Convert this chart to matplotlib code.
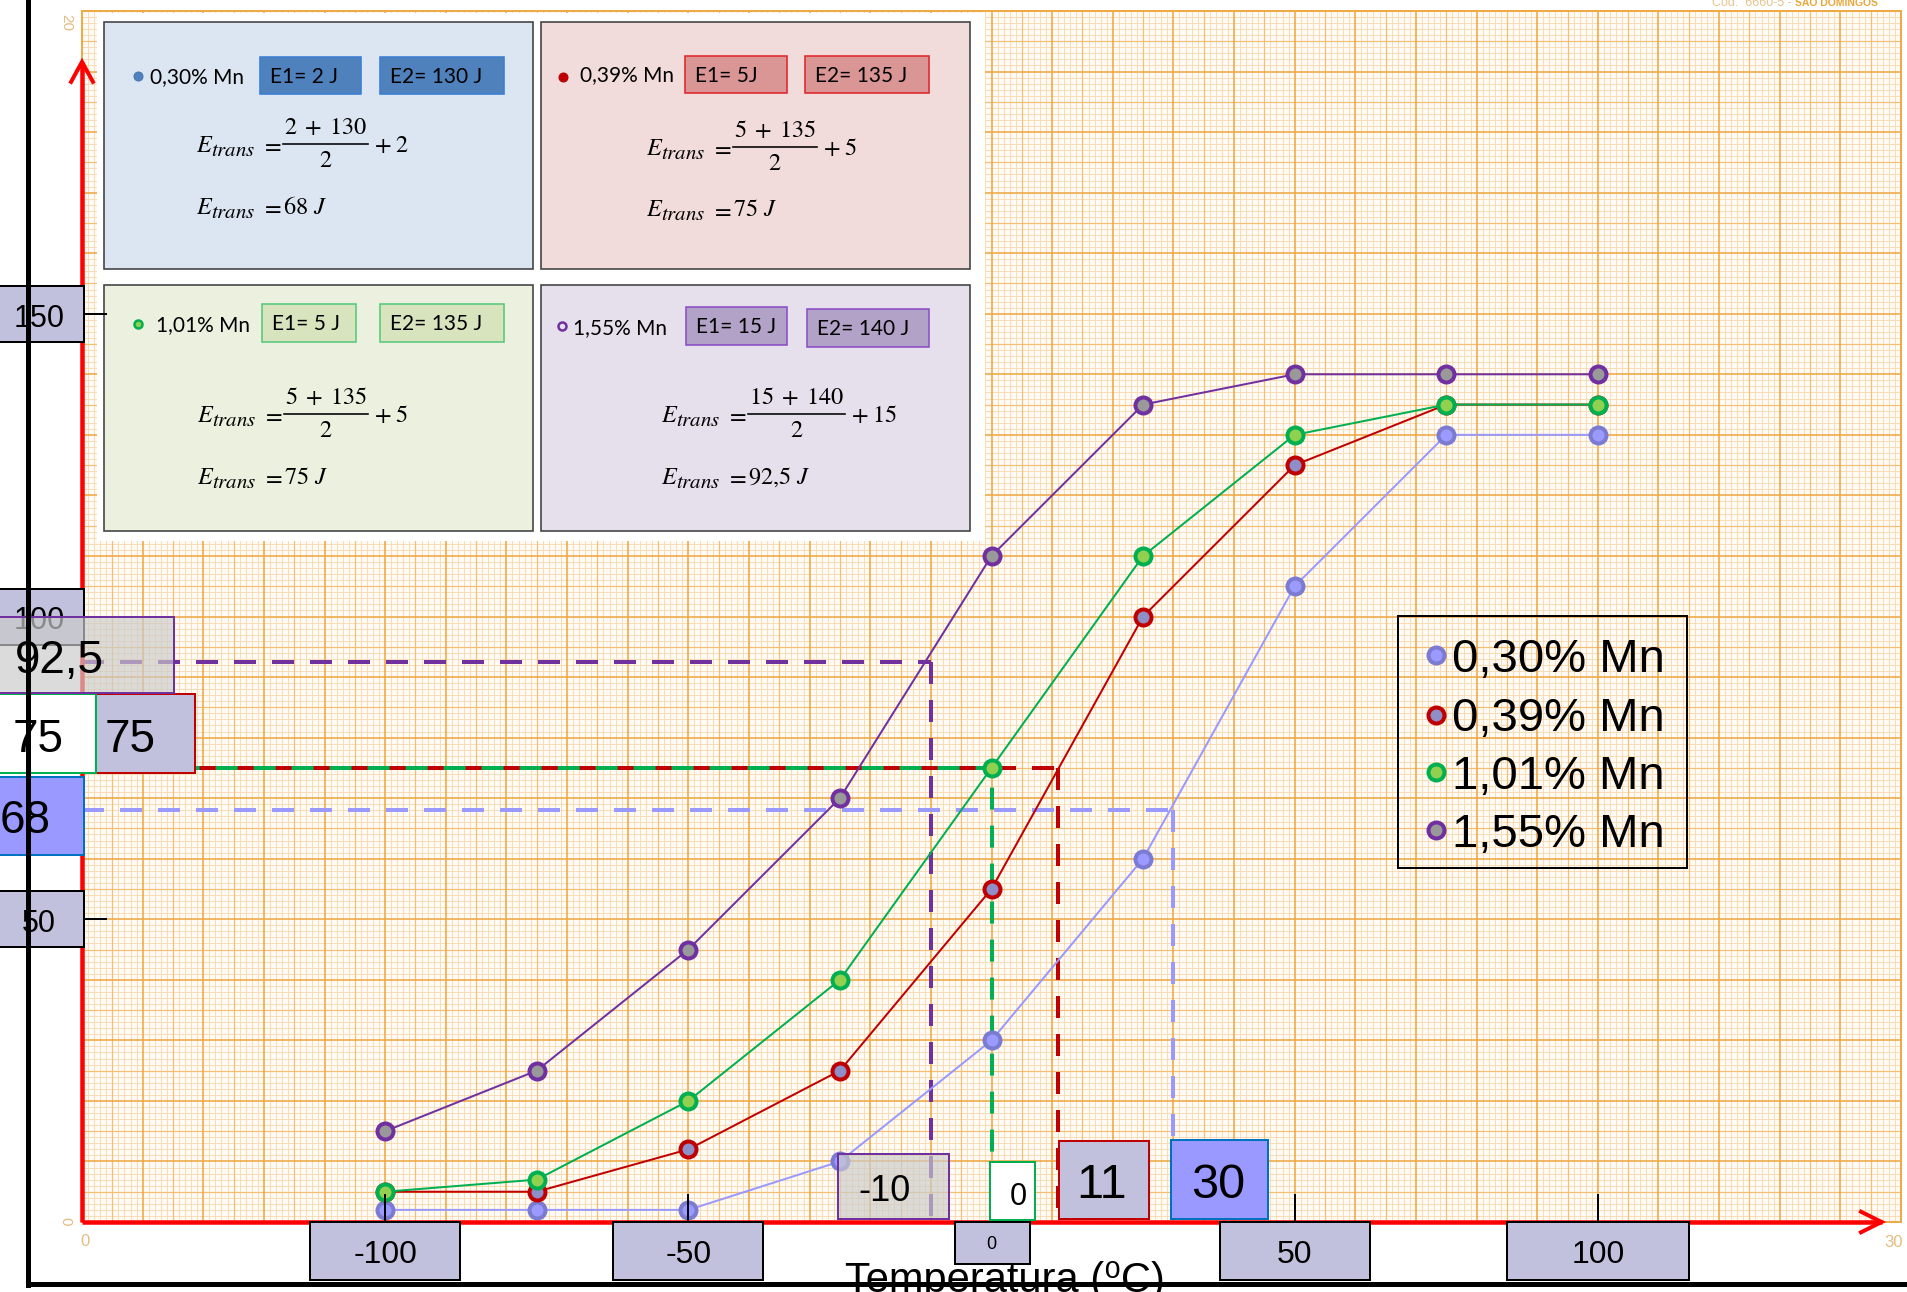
import numpy as np
import matplotlib
matplotlib.use("Agg")
import matplotlib.pyplot as plt
import matplotlib.transforms as mtransforms
from matplotlib.patches import Rectangle
from matplotlib.lines import Line2D

# ---------------- data ----------------
temperatures = [-100, -75, -50, -25, 0, 25, 50, 75, 100]
series_labels = ["0,30% Mn", "0,39% Mn", "1,01% Mn", "1,55% Mn"]
energy_030 = [2, 2, 2, 10, 30, 60, 105, 130, 130]
energy_039 = [5, 5, 12, 25, 55, 100, 125, 135, 135]
energy_101 = [5, 7, 20, 40, 75, 110, 130, 135, 135]
energy_155 = [15, 25, 45, 70, 110, 135, 140, 140, 140]
e1_values = [2, 5, 5, 15]
e2_values = [130, 135, 135, 140]
e_trans = [68, 75, 75, 92.5]
t_trans = [30, 11, 0, -10]
x_ticks = [-100, -50, 0, 50, 100]
y_ticks = [50, 100, 150]
x_label = "Temperatura (\u2070C)"

# ---------------- figure / helpers ----------------
W, H, DPI = 1907, 1292, 100
PT = 72 / DPI  # points per pixel

plt.rcParams["font.family"] = ["Liberation Sans", "DejaVu Sans"]
plt.rcParams["mathtext.fontset"] = "stix"

fig = plt.figure(figsize=(W / DPI, H / DPI), dpi=DPI, facecolor="white")
ax = fig.add_axes([82 / W, 1 - 1222 / H, (1901 - 82) / W, (1222 - 11) / H])
ax.set_xlim(-150, 150)
ax.set_ylim(0, 200)
ax.set_facecolor("#FFFAF3")
ax.set_xticks([])
ax.set_yticks([])
for sp in ax.spines.values():
    sp.set_color("#EFAA48")
    sp.set_linewidth(2 * PT)

# pixel coordinates with the origin in the top-left corner
PX = mtransforms.Affine2D().scale(1 / W, -1 / H).translate(0, 1) + fig.transFigure
renderer = fig.canvas.get_renderer()


def to_px(t, e):
    x, y = ax.transData.transform((t, e))
    return x, H - y


def box(x0, y0, x1, y1, z=5, **kw):
    r = Rectangle((x0, y0), x1 - x0, y1 - y0, transform=PX, zorder=z, **kw)
    fig.add_artist(r)
    return r


def label(x, y, s, size, z=6, va="center", **kw):
    return fig.text(x, y, s, transform=PX, fontsize=size, zorder=z, va=va, **kw)


def cap_label(x, ycap, s, size, z=6, **kw):
    # place text so that the middle of its capitals sits on ycap
    return label(x, ycap + 0.358 * size / PT, s, size, z=z, va="baseline", **kw)


def hline_px(x0, x1, y, color="black", lw=2, z=6):
    fig.add_artist(Line2D([x0, x1], [y, y], transform=PX, color=color,
                          lw=lw * PT, zorder=z))


def dot(x, y, size_px, face, edge, ew_px, z=7):
    fig.add_artist(Line2D([x], [y], transform=PX, ls="none", marker="o",
                          ms=size_px * PT, mfc=face, mec=edge, mew=ew_px * PT,
                          zorder=z))


def text_width(t):
    return t.get_window_extent(renderer).width


def fmt(v):
    return f"{v:g}".replace(".", ",")


def fmt_math(v):
    return fmt(v).replace(",", "{,}")


# ---------------- millimetre paper ----------------
mm_x = np.arange(-150, 151)
mm_y = np.arange(0, 201)
paper_styles = [
    (lambda v: v % 5 != 0, "#F6D8AA", 0.8),
    (lambda v: (v % 5 == 0) & (v % 10 != 0), "#F2BF74", 1.2),
    (lambda v: v % 10 == 0, "#EEA846", 1.6),
]
for sel, col, lw in paper_styles:
    ax.vlines(mm_x[sel(mm_x)], 0, 200, colors=col, lw=lw * PT, zorder=0.3)
    ax.hlines(mm_y[sel(mm_y)], -150, 150, colors=col, lw=lw * PT, zorder=0.3)

# ---------------- red axes with arrows ----------------
red = "#FF0000"
ax.plot([-150, 146.8], [0, 0], color=red, lw=4.5 * PT, clip_on=False, zorder=4,
        solid_capstyle="butt")
ax.plot([143.4, 146.8, 143.4], [1.7, 0, -1.7], color=red, lw=4 * PT,
        clip_on=False, zorder=4, solid_joinstyle="miter")
ax.plot([-150, -150], [0, 191.6], color=red, lw=4.5 * PT, clip_on=False, zorder=4,
        solid_capstyle="butt")
ax.plot([-151.8, -150, -148.2], [188.3, 191.6, 188.3], color=red, lw=4 * PT,
        clip_on=False, zorder=4, solid_joinstyle="miter")

# ---------------- transition guides ----------------
guide_colors = ["#9999FF", "#C00000", "#00B050", "#7030A0"]
guide_offsets = [0, 0, 4.6, 0]
for et, tt, col, off in zip(e_trans, t_trans, guide_colors, guide_offsets):
    ls = (off, (5.5, 4.0))
    ax.plot([-150, tt], [et, et], color=col, lw=4 * PT, ls=ls, zorder=2.5,
            clip_on=False)
    ax.plot([tt, tt], [et, 0], color=col, lw=4 * PT, ls=ls, zorder=2.5)

# ---------------- curves ----------------
series = [energy_030, energy_039, energy_101, energy_155]
line_colors = ["#9999FF", "#C00000", "#00B050", "#7030A0"]
edge_colors = ["#7B7BD2", "#C00000", "#00B050", "#7030A0"]
face_colors = ["#9B9BFF", "#8E8EC8", "#92D050", "#999999"]
for vals, lc, ec, fc in zip(series, line_colors, edge_colors, face_colors):
    ax.plot(temperatures, vals, color=lc, lw=2 * PT, marker="o", ms=16 * PT,
            mfc=fc, mec=ec, mew=4 * PT, zorder=3)

# ---------------- tick label boxes ----------------
tick_face = "#C1C1DD"
tick_box_half = {-100: 75, -50: 75, 50: 75, 100: 91}
for t in x_ticks:
    xc, _ = to_px(t, 0)
    if t == 0:
        box(xc - 37, 1222, xc + 38, 1264, z=10, facecolor=tick_face,
            edgecolor="black", lw=2 * PT)
        cap_label(xc, 1243, fmt(t), 13, z=11, ha="center")
    else:
        hw = tick_box_half[t]
        fig.add_artist(Line2D([xc, xc], [1195, 1222], transform=PX, color="black",
                              lw=2 * PT, zorder=9))
        box(xc - hw, 1222, xc + hw, 1280, z=10, facecolor=tick_face,
            edgecolor="black", lw=2 * PT)
        cap_label(xc, 1251.5, fmt(t), 23, z=11, ha="center")

for e in y_ticks:
    _, yc = to_px(-150, e)
    fig.add_artist(Line2D([84, 106], [yc, yc], transform=PX, color="black",
                          lw=2 * PT, zorder=9))
    box(-10, yc - 28, 84, yc + 28, z=10, facecolor=tick_face, edgecolor="black",
        lw=2 * PT)
    cap_label(39, yc + 2, fmt(e), 22, z=11, ha="center")

# ---------------- transition value boxes ----------------
box_face = ["#9999FF", tick_face, "white", "#CBCBCB"]
box_alpha = [1, 1, 1, 0.68]
box_edge = ["#0070C0", "#C00000", "#00B050", "#7030A0"]
# energy boxes (left side)
e_rects = [(-5, 777, 84, 855), (96, 694, 195, 773), (-5, 694, 96, 773),
           (-5, 617, 174, 693)]
e_text_xy = [(25, 817), (130, 736), (38, 736), (59, 657)]
for i, et in enumerate(e_trans):
    r = box(*e_rects[i], z=12, facecolor=box_face[i], edgecolor=box_edge[i],
            lw=2 * PT)
    r.set_facecolor(matplotlib.colors.to_rgba(box_face[i], box_alpha[i]))
    cap_label(*e_text_xy[i], fmt(et), 33, z=13, ha="center")
# temperature boxes (bottom)
t_rects = [(1171, 1140, 1268, 1219), (1059, 1141, 1149, 1219),
           (990, 1162, 1035, 1220), (838, 1154, 949, 1219)]
t_text_xy = [(1218, 1181), (1102, 1181), (1018, 1194), (885, 1188)]
t_sizes = [35, 35, 22, 26]
for i, tt in enumerate(t_trans):
    r = box(*t_rects[i], z=12, facecolor=box_face[i], edgecolor=box_edge[i],
            lw=2 * PT)
    r.set_facecolor(matplotlib.colors.to_rgba(box_face[i], box_alpha[i]))
    cap_label(*t_text_xy[i], fmt(tt), t_sizes[i], z=13, ha="center")

# ---------------- calculation panels ----------------
box(97, 13, 985, 541, z=2, facecolor="white", edgecolor="none")
panel_rects = [(104, 22, 533, 269), (541, 22, 970, 269),
               (104, 285, 533, 531), (541, 285, 970, 531)]
panel_face = ["#DCE6F2", "#F2DCDB", "#EBF1DE", "#E5E0EC"]
bullet_xy = [(137.5, 76), (563, 77), (138, 323.5), (562, 326)]
bullet_style = [("#4F81BD", "#4575B0", 9, 1), ("#C00000", "#B00000", 9, 1),
                ("#92D050", "#00B050", 8, 2.5), ("#E5E0EC", "#7030A0", 8, 2.5)]
name_x = [150, 580, 156, 573]
name_y = [76, 74, 323.5, 327]
e1_rects = [(260, 57, 361, 94), (685, 56, 787, 93), (262, 304, 356, 342),
            (686, 307, 787, 345)]
e2_rects = [(380, 57, 504, 94), (805, 56, 929, 93), (380, 304, 504, 342),
            (807, 309, 929, 347)]
e1_units = [" J", "J", " J", " J"]
ebox_face = ["#4F81BD", "#D99694", "#D7E4BD", "#B3A2C7"]
ebox_edge = ["#3A7ED4", "#E0262A", "#58C97B", "#8C4DC6"]
# left edge of "E_trans" and height of the fraction bar in each panel
formula_x = [196, 646, 197, 661]
formula_bar_y = [144, 146.5, 414, 414]
sans = ["Lato", "DejaVu Sans"]
FS = 17.5
FS_SUB = 15.0


def e_trans_symbol(x, base):
    """Italic E with a large 'trans' subscript, as in the equation editor."""
    e = label(x, base, r"$E$", FS, z=5, va="baseline")
    label(x + text_width(e) - 2, base + 4, r"$trans$", FS_SUB, z=5, va="baseline")


for i in range(4):
    box(*panel_rects[i], z=3, facecolor=panel_face[i], edgecolor="#404040",
        lw=1.6 * PT)
    f, ec, s, ew = bullet_style[i]
    dot(*bullet_xy[i], s, f, ec, ew, z=5)
    cap_label(name_x[i], name_y[i], series_labels[i], 15, z=5, family=sans)
    for rect, txt in ((e1_rects[i], f"E1= {e1_values[i]}{e1_units[i]}"),
                      (e2_rects[i], f"E2= {e2_values[i]} J")):
        box(*rect, z=4, facecolor=ebox_face[i], edgecolor=ebox_edge[i], lw=1.6 * PT)
        cap_label(rect[0] + 10, (rect[1] + rect[3]) / 2, txt, 15, z=5, family=sans)

    # E_trans = (E1 + E2) / 2 + E1, typeset piece by piece
    e1, e2 = e1_values[i], e2_values[i]
    x0, by = formula_x[i], formula_bar_y[i]
    base = by + 8.3
    e_trans_symbol(x0, base)
    label(x0 + 65, base, r"$=$", FS, z=5, va="baseline")
    num = label(0, by - 10, rf"${e1}\;+\;{e2}$", FS, z=5, va="baseline",
                ha="center")
    bx0 = x0 + 87
    bx1 = bx0 + text_width(num) + 2
    num.set_position(((bx0 + bx1) / 2, by - 10))
    hline_px(bx0, bx1, by, lw=1.6, z=5)
    label((bx0 + bx1) / 2, by + 23, r"$2$", FS, z=5, va="baseline", ha="center")
    label(bx1 + 6, base, r"$+$", FS, z=5, va="baseline")
    label(bx1 + 27, base, rf"${e1}$", FS, z=5, va="baseline")

    rbase = by + 70
    e_trans_symbol(x0, rbase)
    label(x0 + 65, rbase, r"$=$", FS, z=5, va="baseline")
    label(x0 + 87, rbase, rf"${fmt_math(e_trans[i])}\ J$", FS, z=5, va="baseline")

# ---------------- legend ----------------
box(1398, 616, 1687, 868, z=20, facecolor="none", edgecolor="black", lw=2 * PT)
legend_rows = [655, 714.5, 772, 830]
for i in range(4):
    dot(1436, legend_rows[i], 16, face_colors[i], edge_colors[i], 4, z=21)
    cap_label(1452, legend_rows[i], series_labels[i], 34, z=21)

# ---------------- paper printing and frame ----------------
paper_ink = "#E4BC80"
label(66, 22, "20", 11, z=1.5, ha="center", rotation=-90, color=paper_ink)
label(65, 1221, "0", 11, z=1.5, ha="center", rotation=-90, color=paper_ink)
cap_label(85, 1240, "0", 12, z=1.5, ha="center", color=paper_ink)
cap_label(1894, 1241, "30", 12, z=1.5, ha="center", color=paper_ink)
label(1795, 5.5, "C\u00f3d.  6660-5 - ", 9, z=1.5, ha="right", va="baseline",
      color="#E6C48E")
label(1795, 5.5, "S\u00c3O DOMINGOS", 7.5, z=1.5, ha="left", va="baseline",
      color="#E9A63A", fontweight="bold")

fig.add_artist(Line2D([27.5, 27.5], [0, 1285], transform=PX, color="black",
                      lw=5 * PT, zorder=30, solid_capstyle="projecting"))
fig.add_artist(Line2D([27.5, W], [1284, 1284], transform=PX, color="black",
                      lw=5 * PT, zorder=30))

label(1005, 1292, x_label, 30, z=31, ha="center", va="baseline")

fig.savefig("out.png", dpi=DPI, facecolor="white")
